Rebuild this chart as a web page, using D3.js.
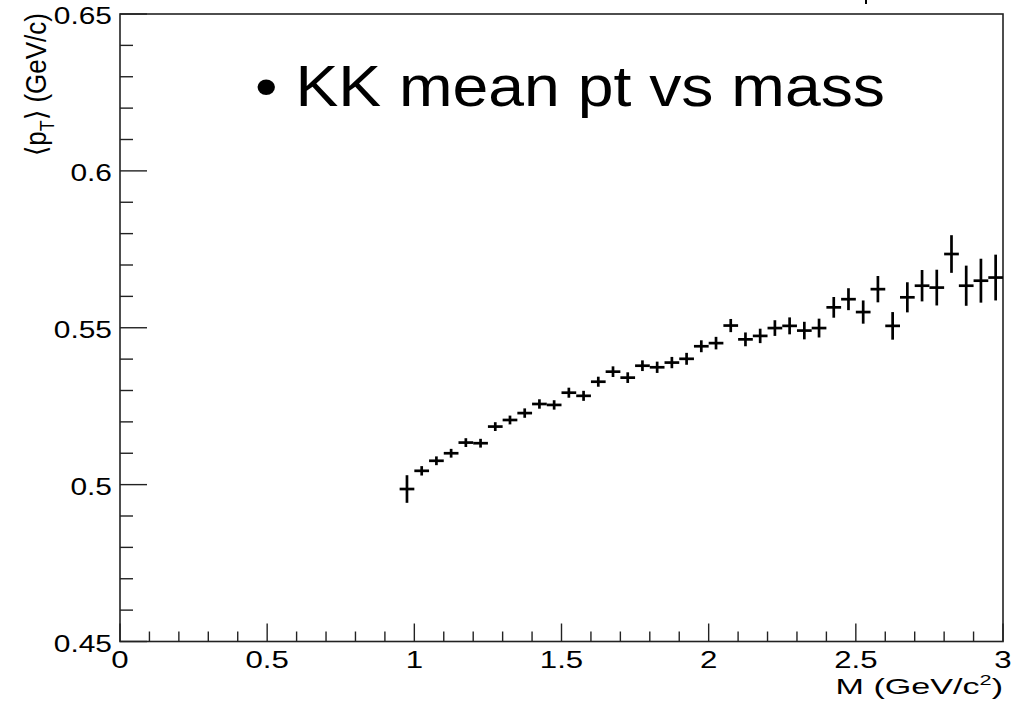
<!DOCTYPE html>
<html>
<head>
<meta charset="utf-8">
<title>KK mean pt vs mass</title>
<script src="https://d3js.org/d3.v7.min.js"></script>
<style>
  body { margin: 0; background: #fff; }
  svg { display: block; }
  text { font-family: "Liberation Sans", Arial, sans-serif; fill: #000; }
</style>
</head>
<body>
<script>

// bin centres in M (GeV/c^2), bin width 0.05
var massBins = [0.975, 1.025, 1.075, 1.125, 1.175, 1.225, 1.275, 1.325, 1.375, 1.425,
                1.475, 1.525, 1.575, 1.625, 1.675, 1.725, 1.775, 1.825, 1.875, 1.925,
                1.975, 2.025, 2.075, 2.125, 2.175, 2.225, 2.275, 2.325, 2.375, 2.425,
                2.475, 2.525, 2.575, 2.625, 2.675, 2.725, 2.775, 2.825, 2.875, 2.925, 2.975];
var binHalfWidth = 0.025;

// <pT> in GeV/c
var meanPt = [0.4986, 0.5044, 0.5076, 0.5100, 0.5134, 0.5132, 0.5185, 0.5206, 0.5228, 0.5257,
              0.5254, 0.5293, 0.5283, 0.5328, 0.5360, 0.5341, 0.5379, 0.5374, 0.5389, 0.5401,
              0.5441, 0.5451, 0.5507, 0.5463, 0.5474, 0.5499, 0.5506, 0.5491, 0.5499, 0.5565,
              0.5591, 0.5550, 0.5623, 0.5506, 0.5597, 0.5634, 0.5628, 0.5735, 0.5634, 0.5650, 0.5660];

// statistical error on <pT>
var meanPtErr = [0.0044, 0.0015, 0.0014, 0.0014, 0.0014, 0.0014, 0.0014, 0.0014, 0.0015, 0.0015,
                 0.0015, 0.0016, 0.0016, 0.0016, 0.0017, 0.0017, 0.0017, 0.0018, 0.0018, 0.0019,
                 0.0019, 0.0020, 0.0021, 0.0022, 0.0023, 0.0025, 0.0027, 0.0028, 0.0030, 0.0033,
                 0.0035, 0.0037, 0.0042, 0.0044, 0.0048, 0.0050, 0.0057, 0.0060, 0.0064, 0.0070, 0.0073];

var xMajor = [0, 0.5, 1, 1.5, 2, 2.5, 3];
var xMajorLabels = ["0", "0.5", "1", "1.5", "2", "2.5", "3"];
var yMajor = [0.45, 0.5, 0.55, 0.6, 0.65];
var yMajorLabels = ["0.45", "0.5", "0.55", "0.6", "0.65"];

var W = 1014, H = 709;
var frame = {left: 120, right: 1003, top: 14, bottom: 641.5};
var sx = 1.3;   // glyphs in the picture are drawn wider than tall

var x = d3.scaleLinear().domain([0, 3]).range([frame.left, frame.right]);
var y = d3.scaleLinear().domain([0.45, 0.65]).range([frame.bottom, frame.top]);

var svg = d3.select("body").append("svg")
    .attr("width", W)
    .attr("height", H);

// frame
svg.append("rect")
    .attr("x", frame.left).attr("y", frame.top)
    .attr("width", frame.right - frame.left)
    .attr("height", frame.bottom - frame.top)
    .attr("fill", "none")
    .attr("stroke", "#222")
    .attr("stroke-width", 1.6);

// x ticks (minor every 0.1, major every 0.5)
var xMinor = d3.range(0, 31).map(function(i) { return i / 10; });
svg.append("g").selectAll("line")
    .data(xMinor)
    .enter().append("line")
    .attr("x1", function(d) { return x(d); })
    .attr("x2", function(d) { return x(d); })
    .attr("y1", frame.bottom)
    .attr("y2", function(d, i) { return frame.bottom - (i % 5 === 0 ? 18 : 10); })
    .attr("stroke", "#222")
    .attr("stroke-width", 1.4);

// y ticks (minor every 0.01)
var yMinor = d3.range(0, 21).map(function(i) { return 0.45 + i / 100; });
svg.append("g").selectAll("line")
    .data(yMinor)
    .enter().append("line")
    .attr("x1", frame.left)
    .attr("x2", function(d, i) { return frame.left + (i % 5 === 0 ? 27 : 13); })
    .attr("y1", function(d) { return y(d); })
    .attr("y2", function(d) { return y(d); })
    .attr("stroke", "#222")
    .attr("stroke-width", 1.4);

// tick labels
svg.append("g").selectAll("text")
    .data(xMajor)
    .enter().append("text")
    .attr("transform", function(d) { return "translate(" + x(d) + ",668) scale(" + sx + ",1)"; })
    .attr("text-anchor", "middle")
    .style("font-size", "24px")
    .text(function(d, i) { return xMajorLabels[i]; });

svg.append("g").selectAll("text")
    .data(yMajor)
    .enter().append("text")
    .attr("transform", function(d) { return "translate(112," + (y(d) + 10) + ") scale(" + sx + ",1)"; })
    .attr("text-anchor", "end")
    .style("font-size", "23px")
    .text(function(d, i) { return yMajorLabels[i]; });

// axis titles
var xt = svg.append("text")
    .attr("transform", "translate(1003,694) scale(1.55,1)")
    .attr("text-anchor", "end")
    .style("font-size", "22px");
xt.append("tspan").text("M (GeV/c");
xt.append("tspan").attr("dy", -9).style("font-size", "14px").text("2");
xt.append("tspan").attr("dy", 9).text(")");

var yt = svg.append("text")
    .attr("transform", "translate(46,13) rotate(-90) scale(1,1.1)")
    .attr("text-anchor", "end")
    .style("font-size", "26px");
yt.append("tspan").text("\u27E8p");
yt.append("tspan").attr("dy", 7).style("font-size", "18px").text("T");
yt.append("tspan").attr("dy", -7).text("\u27E9 (GeV/c)");

// little clipped mark at the top edge
svg.append("rect")
    .attr("x", 865).attr("y", 0)
    .attr("width", 2).attr("height", 4)
    .attr("fill", "#000");

// data: error crosses
var pts = massBins.map(function(m, i) { return {m: m, v: meanPt[i], e: meanPtErr[i]}; });
var g = svg.append("g")
    .attr("stroke", "#000")
    .attr("stroke-width", 2.7);

g.selectAll(".ex")
    .data(pts)
    .enter().append("line")
    .attr("class", "ex")
    .attr("x1", function(d) { return x(d.m - binHalfWidth); })
    .attr("x2", function(d) { return x(d.m + binHalfWidth); })
    .attr("y1", function(d) { return y(d.v); })
    .attr("y2", function(d) { return y(d.v); });

g.selectAll(".ey")
    .data(pts)
    .enter().append("line")
    .attr("class", "ey")
    .attr("x1", function(d) { return x(d.m); })
    .attr("x2", function(d) { return x(d.m); })
    .attr("y1", function(d) { return y(d.v - d.e); })
    .attr("y2", function(d) { return y(d.v + d.e); });

// slide text
svg.append("text")
    .attr("x", 255)
    .attr("y", 106)
    .attr("textLength", 630)
    .attr("lengthAdjust", "spacingAndGlyphs")
    .style("font-size", "57px")
    .text("\u2022 KK mean pt vs mass");

</script>
</body>
</html>
